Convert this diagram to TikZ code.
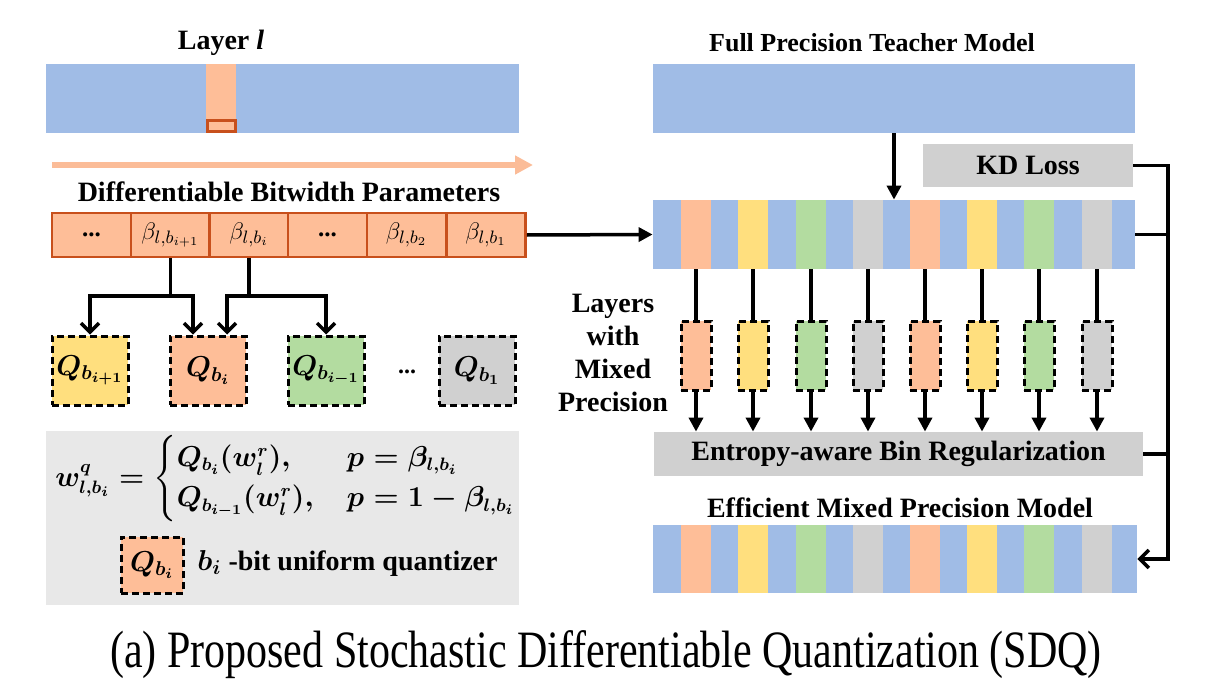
\documentclass[tikz,border=0pt]{standalone}
\usepackage{fontspec}
\setmainfont{Liberation Serif}
\usepackage{amsmath}
\usepackage{graphicx}
\usetikzlibrary{arrows.meta}
\definecolor{cb}{HTML}{A0BCE6}
\definecolor{co}{HTML}{FEBE98}
\definecolor{cy}{HTML}{FFDF7E}
\definecolor{cg}{HTML}{B3DCA0}
\definecolor{cgr}{HTML}{D0D0D0}
\definecolor{cbox}{HTML}{E8E8E8}
\definecolor{cdk}{HTML}{C8501C}
\definecolor{carr}{HTML}{FBBC98}
\newcommand{\vs}[1]{\scalebox{1}[1.25]{#1}}
\newsavebox{\formbox}
\newsavebox{\legbox}
\begin{document}
\sbox{\formbox}{\fontsize{13.3}{16}\selectfont\boldmath$w^{q}_{l,b_i}=\begin{cases}Q_{b_i}(w^r_l), & \hspace{0.25em}p=\beta_{l,b_i}\\[1pt] Q_{b_{i-1}}(w^r_l), & \hspace{0.25em}p=1-\beta_{l,b_i}\end{cases}$}
\sbox{\legbox}{\fontsize{14}{16}\selectfont\bfseries\boldmath$b_i$ -bit uniform quantizer}
\begin{tikzpicture}[x=0.5pt,y=-0.5pt,
  lbl/.style={font=\bfseries\fontsize{14}{16.5}\selectfont, inner sep=0},
  bar/.style={inner sep=0, minimum width=241pt, minimum height=34.5pt},
  cell/.style={draw=cdk, fill=co, line width=1.25pt, inner sep=0, minimum width=39.5pt, minimum height=22pt, font=\fontsize{12.5}{14}\selectfont},
  qbox/.style={draw=black, line width=1.5pt, dash pattern=on 3.5pt off 2pt, inner sep=0, minimum width=38pt, minimum height=34.5pt, font=\fontsize{14}{16}\selectfont\boldmath},
  dbox/.style={draw=black, line width=1.5pt, dash pattern=on 3.5pt off 2pt, inner sep=0, minimum width=15pt, minimum height=34.5pt},
  gbox/.style={fill=cgr, inner sep=0, font=\bfseries\fontsize{14}{16}\selectfont},
  conn/.style={line width=1.75pt},
  tri/.style={conn, -{Triangle[length=7pt,width=7pt]}},
  barb/.style={conn, -{Straight Barb[length=4.5pt,width=9pt]}},
]
\useasboundingbox (0,0) rectangle (1214,690);

% ---------- left side ----------
\node[lbl] (tl) at (221,43) {Layer \textit{l}};
\node[bar, fill=cb, minimum width=236.5pt] (layer) at (282.5,98.5) {};
\fill[co] (206,64) rectangle (236,133);
\node[draw=cdk, fill=co, line width=1.25pt, inner sep=0, minimum width=14pt, minimum height=5.5pt] (lsel) at (221.5,126) {};

\coordinate (ga) at (52,165);
\coordinate (gb) at (533,165);
\draw[carr, line width=3pt, -{Triangle[length=9pt,width=9pt]}] (ga) -- (gb);

\node[lbl] (tdb) at (289,192) {Differentiable Bitwidth Parameters};
\node[cell] (p1) at (91.5,235) {\textbf{...}};
\node[cell] (p2) at (170.5,235) {$\beta_{l,b_{i+1}}$};
\node[cell] (p3) at (249,235) {$\beta_{l,b_i}$};
\node[cell] (p4) at (327.5,235) {\textbf{...}};
\node[cell] (p5) at (406.5,235) {$\beta_{l,b_2}$};
\node[cell] (p6) at (486,235) {$\beta_{l,b_1}$};

\node[qbox, fill=cy] (q1) at (90,370.5) {$Q_{b_{i+1}}$};
\node[qbox, fill=co] (q2) at (208,370.5) {$Q_{b_i}$};
\node[qbox, fill=cg] (q3) at (326,370.5) {$Q_{b_{i-1}}$};
\node[font=\bfseries\fontsize{12}{14}\selectfont] (qd) at (407,372) {...};
\node[qbox, fill=cgr] (q4) at (477,370.5) {$Q_{b_1}$};

\coordinate (j1) at (170.5,296);
\coordinate (j2) at (249,296);
\draw[conn] (p2.south) -- (j1);
\draw[barb] (j1) -| (q1.north);
\draw[barb] (j1) -| ([xshift=-7.5pt]q2.north);
\draw[conn] (p3.south) -- (j2);
\draw[barb] (j2) -| ([xshift=9.5pt]q2.north);
\draw[barb] (j2) -| (q3.north);

\node[fill=cbox, inner sep=0, minimum width=236.5pt, minimum height=87pt] (fbox) at (282.5,518) {};
\node[inner sep=0] (form) at (286,479) {\usebox{\formbox}};
\node[qbox, fill=co, minimum width=31pt, minimum height=28pt] (lq) at (152,565) {$Q_{b_i}$};
\node[anchor=west, inner sep=0] (ltxt) at (197,563) {\usebox{\legbox}};

% ---------- right side ----------
\node[lbl, font=\bfseries\fontsize{13}{15}\selectfont] (tt) at (872,43) {Full Precision Teacher Model};
\node[bar, fill=cb] (teacher) at (894,98.5) {};
\node[gbox, minimum width=105pt, minimum height=21.5pt] (kd) at (1028,165.5) {KD Loss};

\node[bar] (mixed) at (894,234.5) {};
\node[bar, minimum width=242pt, minimum height=34pt] (final) at (895,559) {};
\foreach \a/\b/\c in {653/681/cb,681/711/co,711/738/cb,738/768/cy,768/796/cb,796/826/cg,826/853/cb,853/883/cgr,883/910/cb,910/940/co,940/967/cb,967/997/cy,997/1024/cb,1024/1054/cg,1054/1082/cb,1082/1112/cgr}
  {\fill[\c] (\a,200) rectangle (\b,269); \fill[\c] (\a,525) rectangle (\b,593);}
\fill[cb] (1112,200) rectangle (1135,269);
\fill[cb] (1112,525) rectangle (1137,593);

\draw[tri] (teacher.south) -- (mixed.north);
\draw[tri] (p6.east) -- (mixed.west);

\node[lbl, align=center] (lmp) at (613,353) {Layers\\with\\Mixed\\Precision};
\node[gbox, minimum width=244.5pt, minimum height=22pt] (ent) at (898.5,454) {Entropy-aware Bin Regularization};

\foreach \x/\c [count=\i] in {696/co,753/cy,811/cg,868/cgr,925/co,982/cy,1039/cg,1097/cgr}{
  \node[dbox, fill=\c] (d\i) at (\x,355.5) {};
  \draw[conn] (d\i.north |- mixed.south) -- (d\i.north);
  \draw[tri] (d\i.south) -- (d\i.south |- ent.north);
}

\node[lbl] (tem) at (900,508) {Efficient Mixed Precision Model};

\coordinate (rail) at (1168,165.5);
\draw[barb] (kd.east) -- (rail) |- (final.east);
\draw[conn] (mixed.east) -- (mixed.east -| rail);
\draw[conn] (ent.east) -- (ent.east -| rail);

\node[font=\fontsize{21}{24}\selectfont] (cap) at (606,655) {\vs{(a) Proposed Stochastic Differentiable Quantization (SDQ)}};
\end{tikzpicture}
\end{document}
